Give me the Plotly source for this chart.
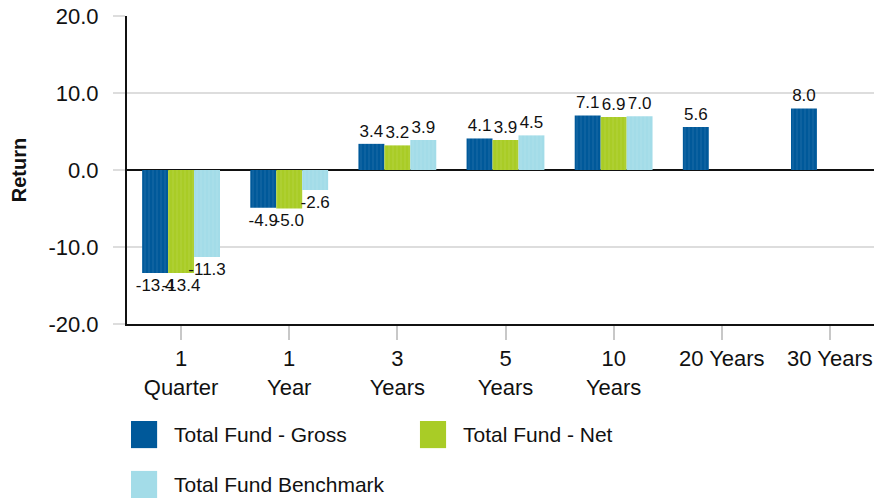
"""Total fund returns vs benchmark"""
import plotly.graph_objects as go

periods = ["1<br>Quarter", "1<br>Year", "3<br>Years", "5<br>Years", "10<br>Years", "20 Years", "30 Years"]
gross = [-13.4, -4.9, 3.4, 4.1, 7.1, 5.6, 8.0]
net = [-13.4, -5.0, 3.2, 3.9, 6.9, None, None]
benchmark = [-11.3, -2.6, 3.9, 4.5, 7.0, None, None]
y_ticks = [-20, -10, 0, 10, 20]
y_labels = ["-20.0", "-10.0", "0.0", "10.0", "20.0"]

series = [
    ("Total Fund - Gross", gross, "#00599a"),
    ("Total Fund - Net", net, "#a9cc26"),
    ("Total Fund Benchmark", benchmark, "#a3dce8"),
]

FONT = "Liberation Sans, Arial, sans-serif"

fig = go.Figure()
for name, vals, color in series:
    fig.add_trace(go.Bar(
        name=name,
        x=periods,
        y=vals,
        marker=dict(color=color, line=dict(width=0),
                    pattern=dict(shape="|", size=4, solidity=0.15,
                                 fgcolor="rgba(255,255,255,0.35)", bgcolor=color)),
        text=[f"{v:.1f}" if v is not None else "" for v in vals],
        textposition="outside",
        constraintext="none",
        cliponaxis=False,
        textfont=dict(size=17, color="#111111", family=FONT),
        showlegend=False,
    ))

# custom legend with big squares, placed like the original
legend_pos = [(0.0053, -0.315), (0.387, -0.315), (0.0053, -0.477)]
for (name, _, color), (lx, ly) in zip(series, legend_pos):
    fig.add_shape(type="rect", xref="paper", yref="paper",
                  x0=lx, x1=lx + 0.0345, y0=ly - 0.088, y1=ly,
                  fillcolor=color, line=dict(width=0))
    fig.add_annotation(text=name, xref="paper", yref="paper",
                       x=lx + 0.054, y=ly - 0.044, xanchor="left", yanchor="middle",
                       showarrow=False, font=dict(size=21, color="#111111", family=FONT))

# page body adds 8px margin, compensated in margins
fig.update_layout(
    width=882, height=499,
    barmode="group",
    bargap=0.28,
    bargroupgap=0,
    plot_bgcolor="white",
    paper_bgcolor="white",
    font=dict(family=FONT, size=22, color="#111111"),
    margin=dict(l=119, r=6, t=8, b=183, autoexpand=False),
)

fig.update_yaxes(
    range=[-20.02, 20.02], tickvals=y_ticks, ticktext=y_labels,
    title=dict(text="<b>Return</b>", font=dict(size=20), standoff=20),
    showgrid=True, gridcolor="#dddddd", gridwidth=2,
    zeroline=True, zerolinecolor="#111111", zerolinewidth=2,
    showline=True, linecolor="#111111", linewidth=2,
    ticks="outside", ticklen=12, tickcolor="#dddddd", tickwidth=2,
    ticklabelstandoff=10, ticklabeloverflow="allow", automargin=False,
    tickfont=dict(size=22),
)
fig.update_xaxes(
    showline=True, linecolor="#111111", linewidth=2,
    ticks="outside", ticklen=14, tickcolor="#c8c8c8", tickwidth=2,
    automargin=False,
    tickfont=dict(size=22),
)

fig.write_html("out.html")
